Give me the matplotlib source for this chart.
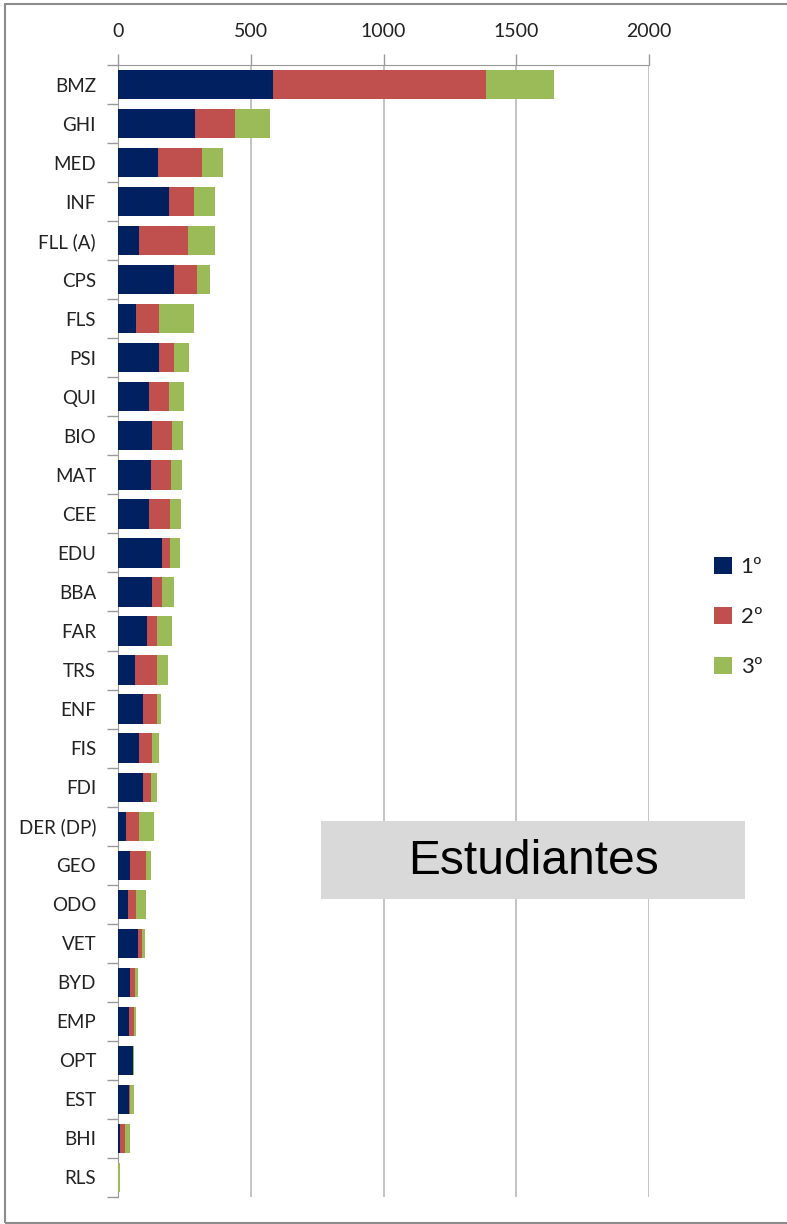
import matplotlib.pyplot as plt
import numpy as np
from matplotlib.patches import Rectangle

# Data (students by year)
categories = ["BMZ", "GHI", "MED", "INF", "FLL (A)", "CPS", "FLS", "PSI", "QUI", "BIO",
              "MAT", "CEE", "EDU", "BBA", "FAR", "TRS", "ENF", "FIS", "FDI", "DER (DP)",
              "GEO", "ODO", "VET", "BYD", "EMP", "OPT", "EST", "BHI", "RLS"]
primero = [582, 290, 150, 190, 79, 210, 67, 155, 115, 128,
           125, 115, 164, 128, 107, 63, 93, 79, 93, 28,
           44, 37, 76, 45, 40, 54, 40, 6, 0]
segundo = [804, 148, 165, 95, 185, 88, 88, 55, 75, 75,
           74, 79, 30, 38, 38, 82, 52, 48, 30, 51,
           62, 30, 12, 18, 18, 1, 4, 18, 0]
tercero = [255, 135, 78, 78, 99, 47, 130, 57, 59, 41,
           42, 43, 38, 44, 57, 44, 17, 27, 22, 57,
           17, 39, 14, 13, 9, 4, 14, 21, 5]
series_labels = ["1º", "2º", "3º"]
x_ticks = [0, 500, 1000, 1500, 2000]

colors = ["#002060", "#c0504d", "#9bbb59"]
grid_color = "#bfbfbf"
W, H = 787, 1224

fig = plt.figure(figsize=(W / 100, H / 100), dpi=100)
ax = fig.add_axes([118.3 / W, 1 - 1197 / H, (649 - 118.3) / W, (1197 - 65) / H])

y = np.arange(len(categories))
left = np.zeros(len(categories))
handles = []
for vals, col, lab in zip([primero, segundo, tercero], colors, series_labels):
    vals = np.array(vals, dtype=float)
    h = ax.barh(y, vals, left=left, height=0.75, color=col, label=lab, zorder=3)
    handles.append(h)
    left += vals

ax.set_xlim(0, 2000)
ax.set_ylim(len(categories) - 0.5, -0.5)
ax.xaxis.tick_top()
ax.set_xticks(x_ticks)
ax.set_xticklabels([str(t) for t in x_ticks], fontsize=14, family="Lato", color="#222222")
ax.set_yticks(y)
ax.set_yticklabels(categories, fontsize=13.5, family="Lato", color="#222222")
ax.set_yticks(np.arange(len(categories) + 1) - 0.5, minor=True)
ax.tick_params(axis="y", which="major", length=0, pad=16)
ax.tick_params(axis="y", which="minor", length=8, color="#999999", width=1)
ax.tick_params(axis="x", which="major", length=8, color="#999999", width=1, pad=10)
ax.grid(axis="x", color=grid_color, linewidth=1.3, zorder=0)

for side in ["right", "bottom"]:
    ax.spines[side].set_visible(False)
ax.spines["top"].set_color("#999999")
ax.spines["left"].set_color("#999999")

leg = fig.legend(handles=handles, labels=series_labels, loc="upper left",
                 bbox_to_anchor=(694 / W, 1 - 537 / H), frameon=False,
                 prop={"family": ["Lato", "DejaVu Sans"], "size": 16}, handlelength=0.8,
                 handleheight=0.8, labelspacing=1.33, handletextpad=0.4)
for t in leg.get_texts():
    t.set_color("#222222")

# "Estudiantes" label box
fig.patches.append(Rectangle((321 / W, 1 - 899 / H), (745 - 321) / W, (899 - 821) / H,
                             transform=fig.transFigure, facecolor="#d9d9d9",
                             edgecolor="none", zorder=5))
fig.text(533 / W, 1 - 861 / H, "Estudiantes", ha="center", va="center",
         fontsize=34.5, family="Liberation Sans", color="black", zorder=6)

# outer frame
fig.patches.append(Rectangle((4.5 / W, 1 - 1223 / H), 1.0, (1223 - 3.5) / H,
                             transform=fig.transFigure, facecolor="none",
                             edgecolor="#8c8c8c", linewidth=1.5, zorder=0))

fig.savefig("out.png", dpi=100)
